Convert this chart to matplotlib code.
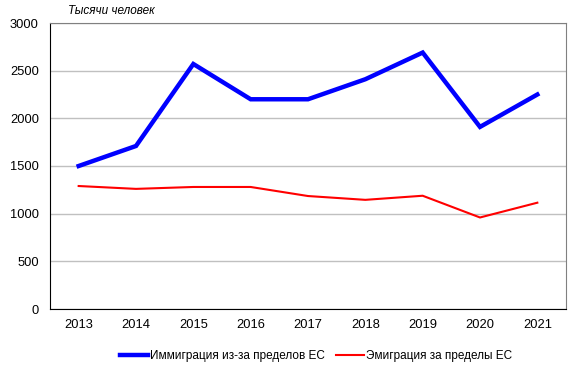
import matplotlib
matplotlib.use('Agg')

import matplotlib.pyplot as plt

years = ['2013', '2014', '2015', '2016', '2017', '2018', '2019', '2020', '2021']
immigration = [1500, 1710, 2570, 2200, 2200, 2410, 2690, 1910, 2250]
emigration = [1290, 1260, 1280, 1280, 1185, 1145, 1188, 960, 1115]
yticks = [0, 500, 1000, 1500, 2000, 2500, 3000]

plt.rcParams['font.family'] = ['Liberation Sans', 'DejaVu Sans']

fig = plt.figure(figsize=(5.78, 3.73), dpi=100)
ax = fig.add_axes([50 / 578, (373 - 309) / 373, (566 - 50) / 578, (309 - 23) / 373])

x = range(len(years))
ax.plot(x, immigration, color='#0000ff', lw=3.2, solid_joinstyle='miter',
        label='Иммиграция из-за пределов ЕС')
ax.plot(x, emigration, color='#ff0000', lw=1.5, solid_joinstyle='miter',
        label='Эмиграция за пределы ЕС')

ax.set_xlim(-0.5, len(years) - 0.5)
ax.set_ylim(0, 3000)
ax.set_xticks(list(x))
ax.set_xticklabels(years)
ax.set_yticks(yticks)
ax.tick_params(length=0, labelsize=9.3, colors='black')
ax.tick_params(axis='x', pad=7)
ax.tick_params(axis='y', pad=8)
ax.yaxis.grid(True, color='#c0c0c0', lw=1)
ax.set_axisbelow(True)

for side in ['top', 'right']:
    ax.spines[side].set_color('#808080')
for side in ['left', 'bottom']:
    ax.spines[side].set_color('black')

fig.text(68 / 578, 1 - 11 / 373, 'Тысячи человек', fontsize=8.5, style='italic',
         ha='left', va='center')

fig.legend(loc='center', bbox_to_anchor=(316 / 578, 1 - 356 / 373), ncol=2,
           frameon=False, fontsize=8.5, handlelength=2.4, handletextpad=0.15,
           columnspacing=0.9)

fig.savefig('out.png', dpi=100)
